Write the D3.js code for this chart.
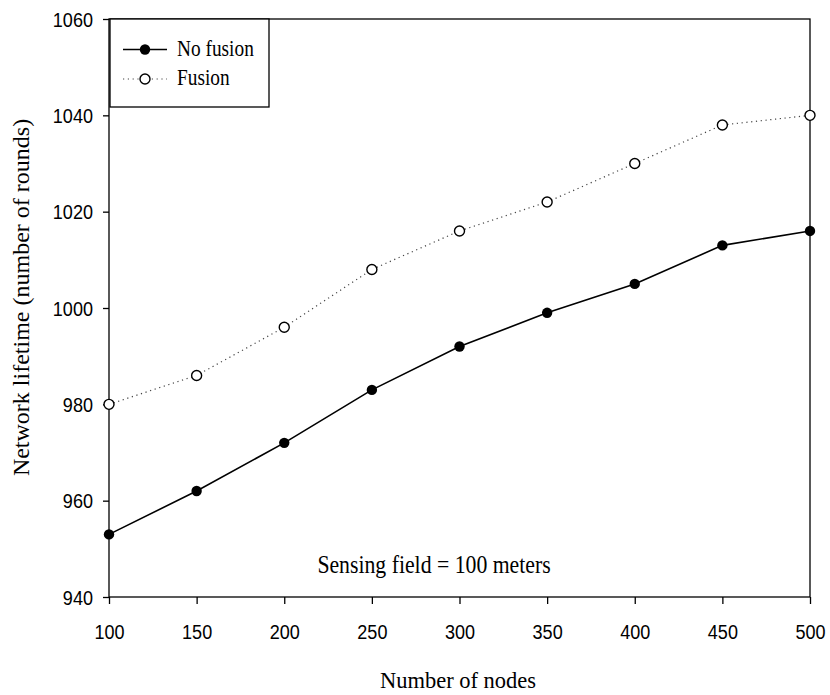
<!DOCTYPE html>
<html>
<head>
<meta charset="utf-8">
<script src="https://cdnjs.cloudflare.com/ajax/libs/d3/7.8.5/d3.min.js"></script>
<style>
  body { margin: 0; background: #fff; }
  svg { display: block; }
</style>
</head>
<body>
<svg id="chart" width="830" height="695"></svg>
<script>
var nodes = [100, 150, 200, 250, 300, 350, 400, 450, 500];
var noFusion = [953, 962, 972, 983, 992, 999, 1005, 1013, 1016];
var fusion = [980, 986, 996, 1008, 1016, 1022, 1030, 1038, 1040];
var xTicks = [100, 150, 200, 250, 300, 350, 400, 450, 500];
var yTicks = [940, 960, 980, 1000, 1020, 1040, 1060];
var seriesNames = ["No fusion", "Fusion"];

var plotLeft = 109, plotRight = 810, plotTop = 19, plotBottom = 597;
var sx = 0.86; // the original is a bit squeezed sideways

var svg = d3.select("#chart");

var x = d3.scaleLinear().domain([100, 500]).range([plotLeft, plotRight]);
var y = d3.scaleLinear().domain([940, 1060]).range([plotBottom, plotTop]);

// frame
svg.append("rect")
    .attr("x", plotLeft).attr("y", plotTop)
    .attr("width", plotRight - plotLeft).attr("height", plotBottom - plotTop)
    .attr("fill", "none").attr("stroke", "#000").attr("stroke-width", 1.3);

var xAxis = svg.append("g")
    .attr("transform", "translate(0," + plotBottom + ")")
    .call(d3.axisBottom(x).tickValues(xTicks).tickSize(7).tickSizeOuter(0).tickFormat(d3.format("d")));

var yAxis = svg.append("g")
    .attr("transform", "translate(" + plotLeft + ",0)")
    .call(d3.axisLeft(y).tickValues(yTicks).tickSize(6).tickSizeOuter(0).tickFormat(d3.format("d")));

[xAxis, yAxis].forEach(function (a) {
    a.select(".domain").remove();
    a.selectAll(".tick line").attr("stroke", "#000").attr("stroke-width", 1.3);
    a.selectAll(".tick text")
        .attr("fill", "#000")
        .style("font-family", "'Liberation Sans', Arial, sans-serif")
        .style("font-size", "21px");
});

xAxis.selectAll(".tick text")
    .attr("y", null).attr("dy", null)
    .attr("transform", "translate(0,42) scale(" + sx + ",1)");

yAxis.selectAll(".tick text")
    .attr("x", null).attr("dy", "0.34em")
    .attr("transform", "translate(-16,0) scale(" + sx + ",1)");

// lines
var line = function (vals) {
    return d3.line()
        .x(function (d, i) { return x(nodes[i]); })
        .y(function (d) { return y(d); })(vals);
};

svg.append("path")
    .attr("d", line(fusion))
    .attr("fill", "none")
    .attr("stroke", "#444")
    .attr("stroke-width", 1.2)
    .attr("stroke-dasharray", "1.2,3.6");

svg.append("path")
    .attr("d", line(noFusion))
    .attr("fill", "none")
    .attr("stroke", "#000")
    .attr("stroke-width", 1.6);

svg.selectAll("circle.nf")
    .data(noFusion)
    .enter().append("circle")
    .attr("class", "nf")
    .attr("cx", function (d, i) { return x(nodes[i]); })
    .attr("cy", function (d) { return y(d); })
    .attr("r", 5.2)
    .attr("fill", "#000");

svg.selectAll("circle.f")
    .data(fusion)
    .enter().append("circle")
    .attr("class", "f")
    .attr("cx", function (d, i) { return x(nodes[i]); })
    .attr("cy", function (d) { return y(d); })
    .attr("r", 5)
    .attr("fill", "#fff")
    .attr("stroke", "#000")
    .attr("stroke-width", 1.4);

// legend
var lg = svg.append("g");
lg.append("rect")
    .attr("x", plotLeft + 1).attr("y", plotTop)
    .attr("width", 159).attr("height", 88)
    .attr("fill", "#fff").attr("stroke", "#000").attr("stroke-width", 1.3);

var rows = [49.5, 79];
lg.append("line")
    .attr("x1", 123).attr("x2", 167).attr("y1", rows[0]).attr("y2", rows[0])
    .attr("stroke", "#000").attr("stroke-width", 1.6);
lg.append("circle").attr("cx", 145).attr("cy", rows[0]).attr("r", 5.2).attr("fill", "#000");
lg.append("line")
    .attr("x1", 123).attr("x2", 167).attr("y1", rows[1]).attr("y2", rows[1])
    .attr("stroke", "#444").attr("stroke-width", 1.2).attr("stroke-dasharray", "1.2,3.6");
lg.append("circle").attr("cx", 145).attr("cy", rows[1]).attr("r", 5)
    .attr("fill", "#fff").attr("stroke", "#000").attr("stroke-width", 1.4);

lg.selectAll("text")
    .data(seriesNames)
    .enter().append("text")
    .attr("transform", function (d, i) { return "translate(177," + (rows[i] + 6) + ") scale(" + sx + ",1)"; })
    .style("font-family", "'Liberation Serif', 'Times New Roman', serif")
    .style("font-size", "22.5px")
    .text(function (d) { return d; });

// annotation and titles
svg.append("text")
    .attr("transform", "translate(434,573) scale(0.87,1)")
    .attr("text-anchor", "middle")
    .style("font-family", "'Liberation Serif', 'Times New Roman', serif")
    .style("font-size", "25px")
    .text("Sensing field = 100 meters");

svg.append("text")
    .attr("transform", "translate(458,688)")
    .attr("text-anchor", "middle")
    .style("font-family", "'Liberation Serif', 'Times New Roman', serif")
    .style("font-size", "22.5px")
    .text("Number of nodes");

svg.append("text")
    .attr("transform", "translate(29,297.5) rotate(-90)")
    .attr("text-anchor", "middle")
    .style("font-family", "'Liberation Serif', 'Times New Roman', serif")
    .style("font-size", "24px")
    .text("Network lifetime (number of rounds)");
</script>
</body>
</html>
